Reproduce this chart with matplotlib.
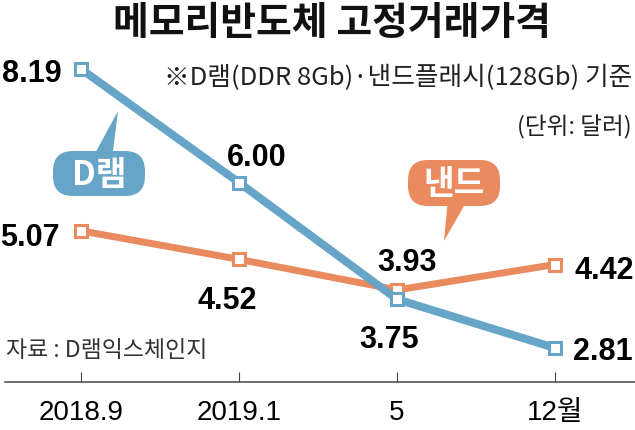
import numpy as np
import matplotlib.pyplot as plt
from matplotlib.patches import FancyBboxPatch, Polygon

months = ['2018.9', '2019.1', '5', '12월']
dram = [8.19, 6.00, 3.75, 2.81]
nand = [5.07, 4.52, 3.93, 4.42]

# label offsets in pixels from each point: (dx, dy to baseline, ha)
dram_off = [(-19, -12, 'right'), (18, 18, 'center'), (-8, -48, 'center'), (18, -11, 'left')]
nand_off = [(-21, -14, 'right'), (-12, -49, 'center'), (10, 20, 'center'), (19, -13, 'left')]

blue = '#66a5c7'
orange = '#e98a5f'
kr = ['Noto Sans CJK KR', 'DejaVu Sans']
num = ['Liberation Sans', 'Noto Sans CJK KR']

fig = plt.figure(figsize=(6.35, 4.31), dpi=100)
ax = fig.add_axes([0, 0.1107, 1, 0.8893])
x = np.arange(len(months))

ax.plot(x, nand, color=orange, lw=5, marker='s', ms=9.3, mfc='white',
        mec=orange, mew=2.2, zorder=3, clip_on=False)
ax.plot(x, dram, color=blue, lw=5.8, marker='s', ms=9.3, mfc='white',
        mec=blue, mew=2.2, zorder=4, clip_on=False)

for xi, v, (dx, dy, ha) in zip(x, dram, dram_off):
    ax.annotate(f'{v:.2f}', (xi, v), xytext=(dx, dy), textcoords='offset pixels',
                ha=ha, va='baseline', fontsize=22, fontweight='bold', family=num, zorder=6)
for xi, v, (dx, dy, ha) in zip(x, nand, nand_off):
    ax.annotate(f'{v:.2f}', (xi, v), xytext=(dx, dy), textcoords='offset pixels',
                ha=ha, va='baseline', fontsize=22, fontweight='bold', family=num, zorder=6)

ax.set_xlim(-0.5127, 3.506)
ax.set_ylim(2.149, 9.540)
ax.set_yticks([])
for s in ['top', 'left', 'right']:
    ax.spines[s].set_visible(False)
ax.spines['bottom'].set_color('#555555')
ax.spines['bottom'].set_linewidth(1.2)
ax.spines['bottom'].set_bounds(-0.48, 3.506)
ax.set_xticks(x, months)
ax.tick_params(axis='x', direction='in', length=7.2, width=0.8, color='#444444', pad=12)
for t in ax.get_xticklabels():
    t.set_fontsize(20)
    t.set_family(num)
ax.patch.set_alpha(0)

# overlay in pixel units for titles and bubbles
ov = fig.add_axes([0, 0, 1, 1], zorder=5)
ov.set_xlim(0, 635)
ov.set_ylim(431, 0)
ov.axis('off')
ov.patch.set_alpha(0)

ov.text(332, 23, '메모리반도체 고정거래가격', ha='center', va='center', fontsize=28,
        fontweight='bold', family=kr, color='#111111')
ov.text(632, 78, '※D램(DDR 8Gb)·낸드플래시(128Gb) 기준', ha='right', va='center',
        fontsize=18.5, fontweight='light', family=kr, color='#222222')
ov.text(632, 127, '(단위: 달러)', ha='right', va='center',
        fontsize=17, fontweight='light', family=kr, color='#222222')
ov.text(6, 351, '자료 : D램익스체인지', ha='left', va='center',
        fontsize=16.5, fontweight='light', family=kr, color='#333333')


def bubble(x0, y0, w, h, tail, color, label):
    ov.add_patch(FancyBboxPatch((x0, y0), w, h, boxstyle='round,pad=0,rounding_size=20',
                                fc=color, ec='none'))
    ov.add_patch(Polygon(tail, closed=True, fc=color, ec='none'))
    ov.text(x0 + w / 2, y0 + h / 2 + 1, label, ha='center', va='center', fontsize=24,
            fontweight='bold', family=kr, color='white')


bubble(53, 152, 92, 45, [(92, 160), (112, 160), (118, 112)], blue, 'D램')
bubble(408, 161, 92, 46, [(448, 200), (468, 200), (444, 242)], orange, '낸드')

fig.savefig('out.png', dpi=100)
